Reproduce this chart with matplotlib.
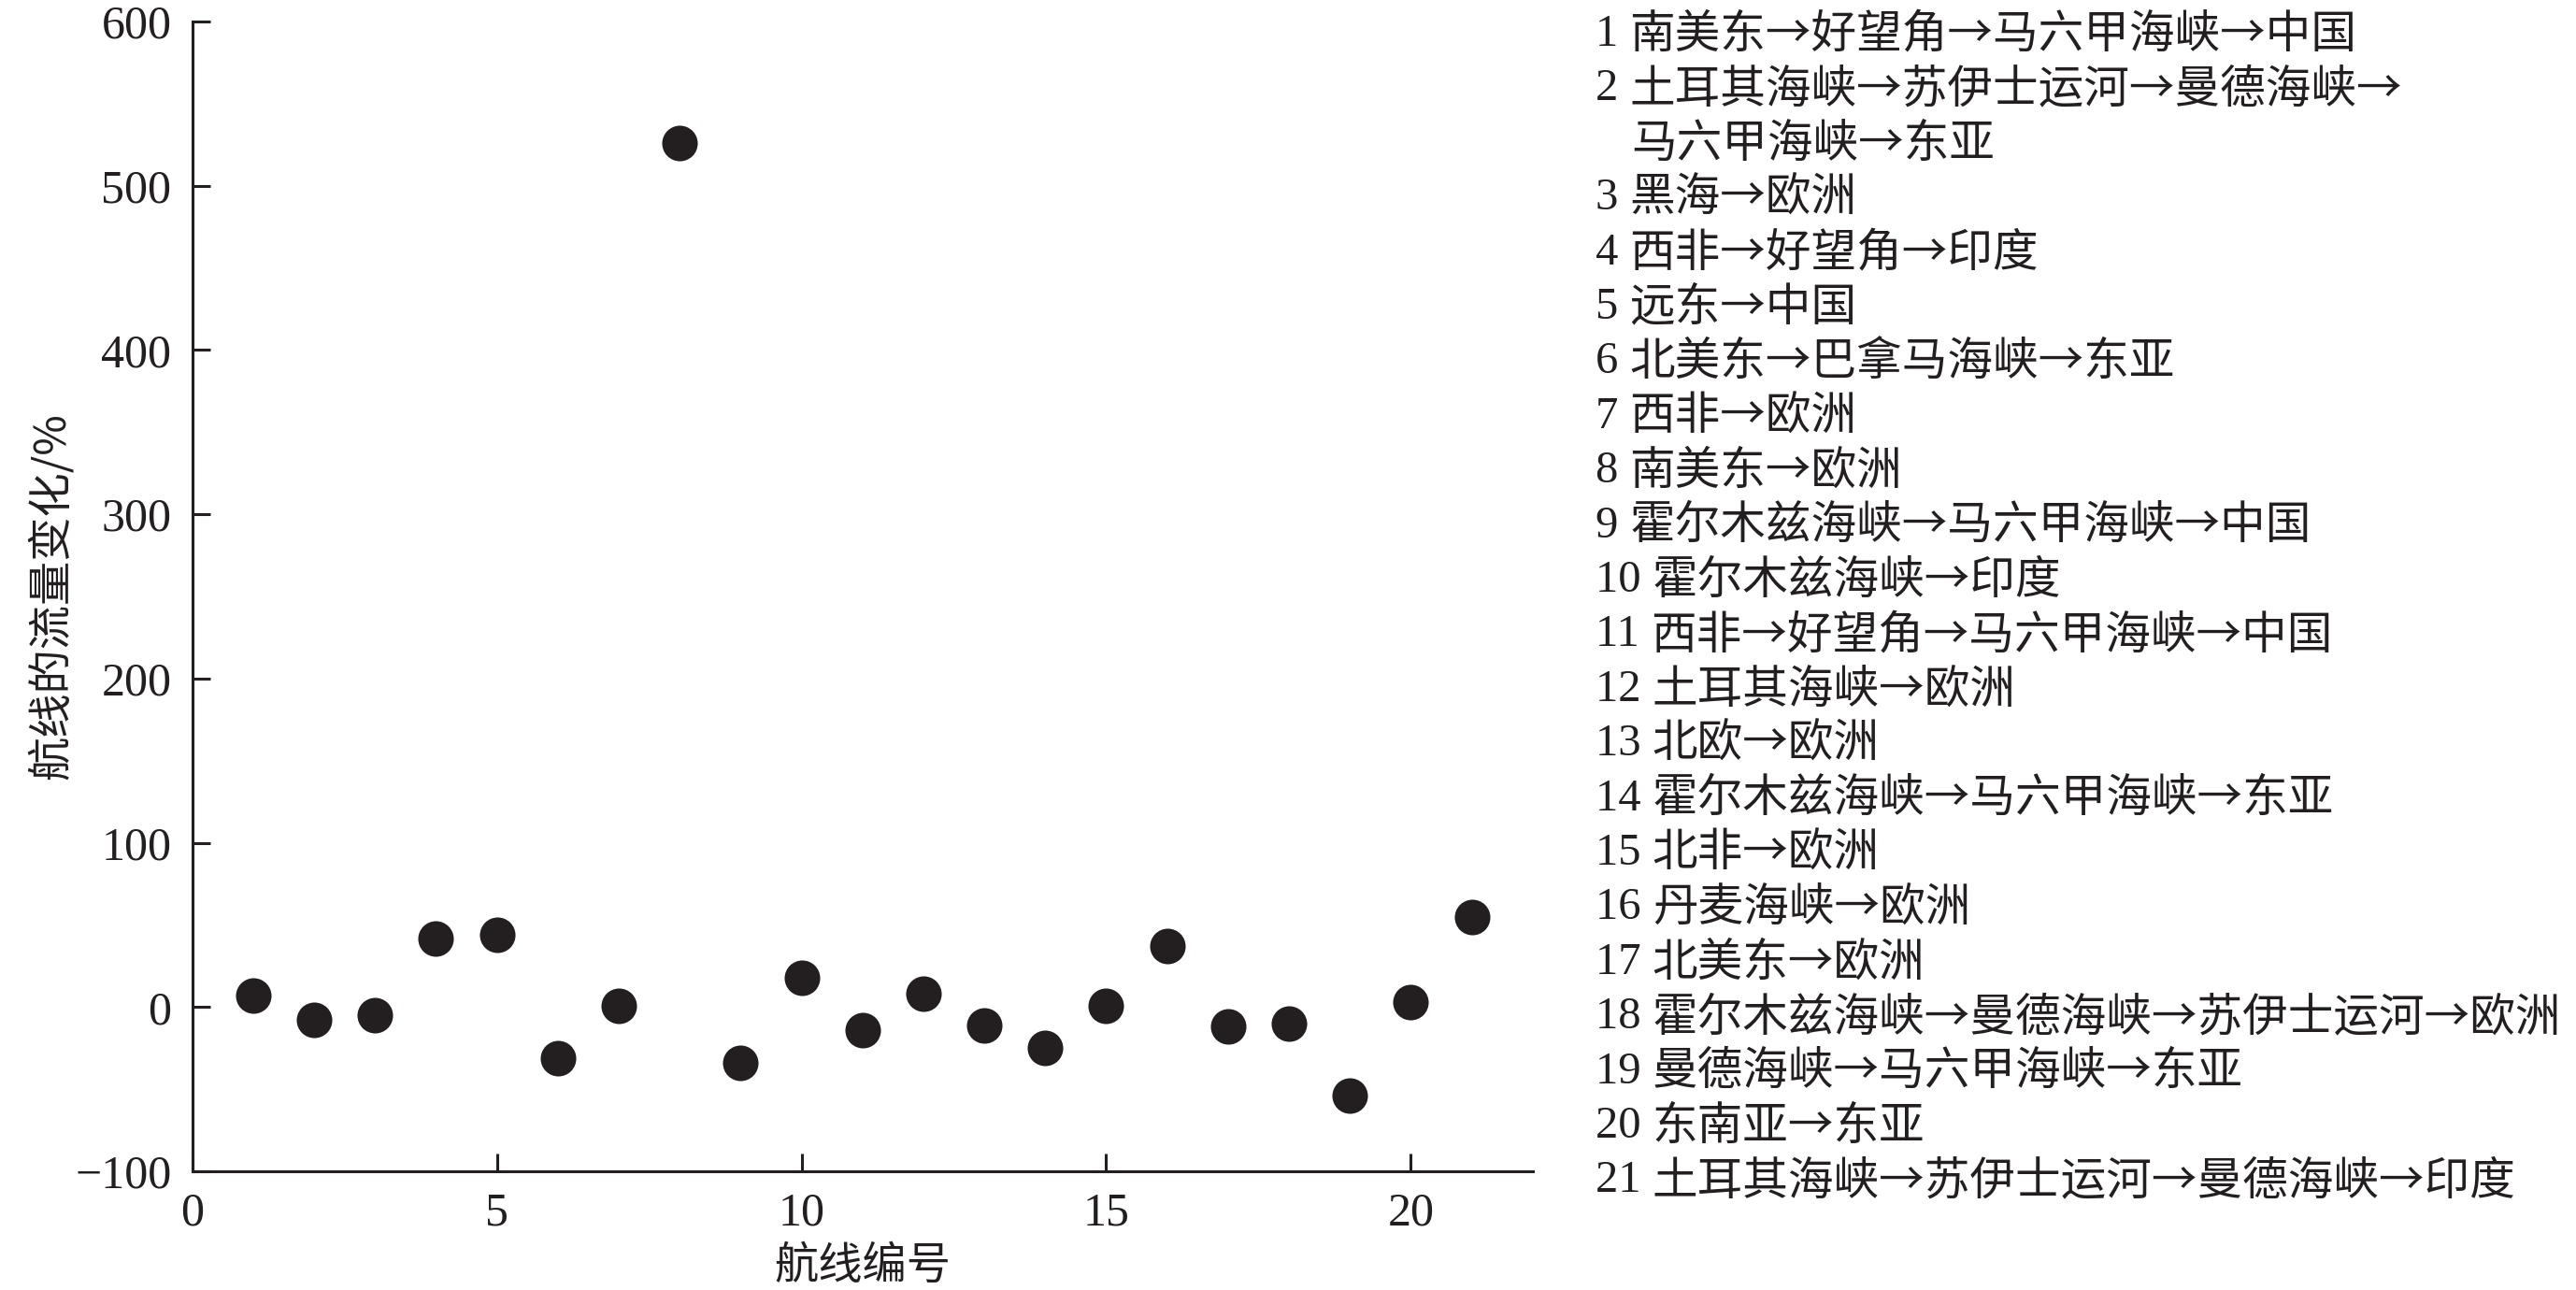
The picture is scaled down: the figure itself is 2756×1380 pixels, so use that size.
import matplotlib
matplotlib.use("Agg")
import matplotlib.pyplot as plt

plt.rcParams['font.family'] = ['Liberation Serif', 'Noto Sans CJK SC', 'DejaVu Sans']
plt.rcParams['axes.unicode_minus'] = True

# route ids and traffic change (%)
route_ids = list(range(1, 22))
change_pct = [7, -8, -5, 42, 44, -31, 1, 526, -34, 18, -14, 8, -11, -25,
              1, 37, -12, -10, -54, 3, 55]

route_names = [
    "南美东→好望角→马六甲海峡→中国",
    "土耳其海峡→苏伊士运河→曼德海峡→\n马六甲海峡→东亚",
    "黑海→欧洲",
    "西非→好望角→印度",
    "远东→中国",
    "北美东→巴拿马海峡→东亚",
    "西非→欧洲",
    "南美东→欧洲",
    "霍尔木兹海峡→马六甲海峡→中国",
    "霍尔木兹海峡→印度",
    "西非→好望角→马六甲海峡→中国",
    "土耳其海峡→欧洲",
    "北欧→欧洲",
    "霍尔木兹海峡→马六甲海峡→东亚",
    "北非→欧洲",
    "丹麦海峡→欧洲",
    "北美东→欧洲",
    "霍尔木兹海峡→曼德海峡→苏伊士运河→欧洲",
    "曼德海峡→马六甲海峡→东亚",
    "东南亚→东亚",
    "土耳其海峡→苏伊士运河→曼德海峡→印度",
]

y_ticks = [-100, 0, 100, 200, 300, 400, 500, 600]
x_ticks = [0, 5, 10, 15, 20]

ink = "#231f20"
cjk = ['Noto Sans CJK SC', 'DejaVu Sans']
fs = 17.5

fig = plt.figure(figsize=(13.78, 6.9), dpi=200)
ax = fig.add_axes([0.0746, 0.092, 0.5204, 0.8913])

ax.plot(route_ids, change_pct, linestyle="none", marker="o",
        markersize=13.7, color=ink, markeredgewidth=0)

ax.set_xlim(0, 22)
ax.set_ylim(-100, 600)
ax.set_xticks(x_ticks)
ax.set_yticks(y_ticks)
ax.set_yticklabels([str(v).replace("-", "\u2212") for v in y_ticks])

for side in ["top", "right"]:
    ax.spines[side].set_visible(False)
for side in ["left", "bottom"]:
    ax.spines[side].set_linewidth(1.1)
    ax.spines[side].set_color(ink)

ax.tick_params(direction="in", length=7, width=1.1, colors=ink,
               labelsize=18, pad=8)

ax.set_xlabel("航线编号", fontsize=17, color=ink, labelpad=3, family=cjk)
ax.set_ylabel("航线的流量变化/%", fontsize=17, color=ink, labelpad=0, family=cjk)

# route legend on the right: serif number, then the route name (route 2 wraps)
line_h = 58.4 / 1380
y = 1 - 37 / 1380
x0 = 1707 / 2756
indent = 1745 / 2756
for rid, name in zip(route_ids, route_names):
    parts = name.split("\n")
    num = fig.text(x0, y, f"{rid} ", fontsize=fs, color=ink, va="center")
    ax.annotate(parts[0], xy=(1, 0.5), xycoords=num, va="center", ha="left",
                fontsize=fs, color=ink, family=cjk, annotation_clip=False)
    y -= line_h
    for extra in parts[1:]:
        fig.text(indent, y, extra, fontsize=fs, color=ink, va="center", family=cjk)
        y -= line_h

fig.savefig("out.png", dpi=200)
